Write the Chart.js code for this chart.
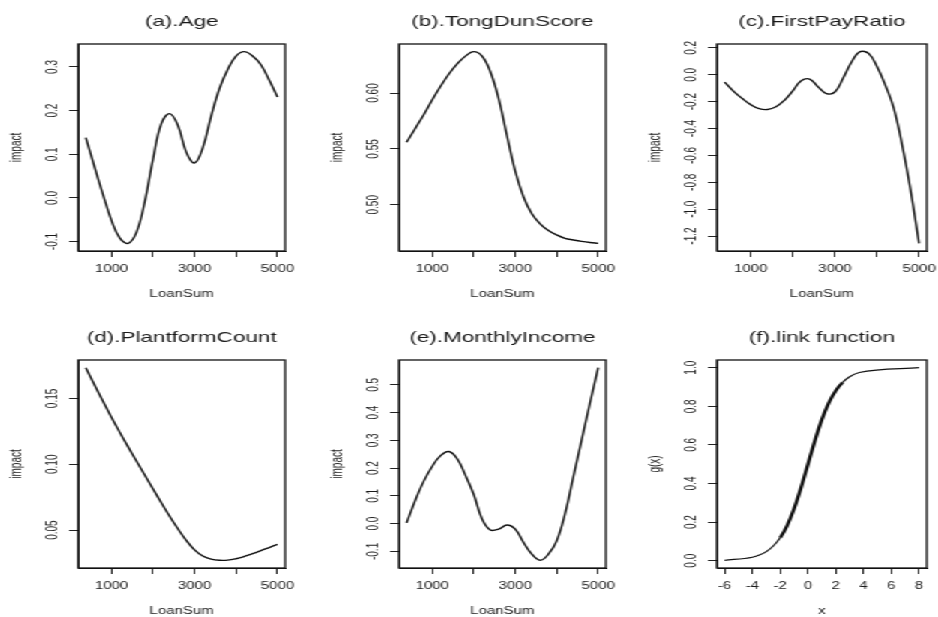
<!DOCTYPE html>
<html><head><meta charset="utf-8">
<script src="https://cdn.jsdelivr.net/npm/chart.js@4/dist/chart.umd.min.js"></script>
<style>
html,body{margin:0;padding:0;background:#fff;overflow:hidden;width:938px;height:617px}
#stage{position:absolute;left:0;top:0;width:626px;height:617px;transform:scaleX(1.5);transform-origin:0 0}
#stage canvas{position:absolute}
</style></head><body><div id="stage"></div>
<script>
// ---------- data ----------
const loanSum = [380,600,800,1000,1200,1400,1600,1800,2000,2200,2400,2600,2800,3000,3200,3400,3600,3800,4000,4200,4400,4600,4800,5000];
const ageImpact = [0.138,0.068,0.006,-0.052,-0.092,-0.104,-0.079,-0.009,0.089,0.170,0.193,0.166,0.105,0.080,0.115,0.187,0.250,0.294,0.325,0.335,0.325,0.305,0.270,0.231];
const tongDunImpact = [0.556,0.569,0.581,0.594,0.606,0.617,0.626,0.633,0.637,0.633,0.619,0.595,0.562,0.530,0.507,0.492,0.483,0.477,0.473,0.470,0.4685,0.4672,0.4662,0.4655];
const firstPayImpact = [-0.055,-0.125,-0.177,-0.222,-0.252,-0.258,-0.238,-0.190,-0.120,-0.045,-0.032,-0.090,-0.140,-0.128,-0.022,0.097,0.172,0.159,0.062,-0.078,-0.250,-0.525,-0.860,-1.254];
const platformImpact = [0.1733,0.1596,0.1474,0.1355,0.1242,0.1132,0.1025,0.0918,0.0812,0.0708,0.0606,0.0510,0.0422,0.0350,0.0303,0.0280,0.0271,0.0272,0.0283,0.0300,0.0321,0.0344,0.0368,0.0392];
const incomeImpact = [0.003,0.088,0.155,0.207,0.245,0.260,0.234,0.174,0.105,0.017,-0.023,-0.020,-0.005,-0.020,-0.068,-0.110,-0.132,-0.110,-0.062,0.035,0.168,0.300,0.433,0.562];
const linkX = [-6,-4,-3.5,-3,-2.5,-2,-1.5,-1,-0.5,0,0.5,1,1.5,2,2.5,3,3.7,8];
const linkY = [0.002,0.018,0.029,0.047,0.076,0.119,0.182,0.269,0.378,0.5,0.622,0.731,0.818,0.881,0.924,0.953,0.975,1.0];

const loanSumTicks = [1000,2000,3000,4000,5000];
const loanSumTickLabels = ['1000','','3000','','5000'];
const linkXTicks = [-6,-4,-2,0,2,4,6,8];
const linkXTickLabels = ['-6','-4','-2','0','2','4','6','8'];
const ageTicks = [-0.1,0,0.1,0.2,0.3];
const ageTickLabels = ['-0.1','0.0','0.1','0.2','0.3'];
const tongDunTicks = [0.50,0.55,0.60];
const tongDunTickLabels = ['0.50','0.55','0.60'];
const firstPayTicks = [-1.2,-1.0,-0.8,-0.6,-0.4,-0.2,0,0.2];
const firstPayTickLabels = ['-1.2','-1.0','-0.8','-0.6','-0.4','-0.2','0.0','0.2'];
const platformTicks = [0.05,0.10,0.15];
const platformTickLabels = ['0.05','0.10','0.15'];
const incomeTicks = [-0.1,0,0.1,0.2,0.3,0.4,0.5];
const incomeTickLabels = ['-0.1','0.0','0.1','0.2','0.3','0.4','0.5'];
const linkYTicks = [0,0.2,0.4,0.6,0.8,1.0];
const linkYTickLabels = ['0.0','0.2','0.4','0.6','0.8','1.0'];

const titles = ['(a).Age','(b).TongDunScore','(c).FirstPayRatio','(d).PlantformCount','(e).MonthlyIncome','(f).link function'];

// ---------- layout (page px boxes) ----------
const S = 1.5, M = 60, TOPM = 44, BOTM = 60;
const FONT = '"Liberation Sans", Arial, Helvetica, sans-serif';
const boxes = [
  [77.7, 44.3, 285.0, 251.5],
  [399.0, 44.3, 606.3, 251.5],
  [717.7, 44.3, 927.7, 251.5],
  [77.7, 360.3, 285.0, 568.5],
  [399.0, 360.3, 606.3, 568.5],
  [717.7, 360.3, 927.7, 568.5]
];

const panels = [
  {x: loanSum, y: ageImpact, xt: loanSumTicks, xl: loanSumTickLabels, yt: ageTicks, yl: ageTickLabels, xTitle:'LoanSum', yTitle:'impact'},
  {x: loanSum, y: tongDunImpact, xt: loanSumTicks, xl: loanSumTickLabels, yt: tongDunTicks, yl: tongDunTickLabels, xTitle:'LoanSum', yTitle:'impact'},
  {x: loanSum, y: firstPayImpact, xt: loanSumTicks, xl: loanSumTickLabels, yt: firstPayTicks, yl: firstPayTickLabels, xTitle:'LoanSum', yTitle:'impact'},
  {x: loanSum, y: platformImpact, xt: loanSumTicks, xl: loanSumTickLabels, yt: platformTicks, yl: platformTickLabels, xTitle:'LoanSum', yTitle:'impact'},
  {x: loanSum, y: incomeImpact, xt: loanSumTicks, xl: loanSumTickLabels, yt: incomeTicks, yl: incomeTickLabels, xTitle:'LoanSum', yTitle:'impact'},
  {x: linkX, y: linkY, xt: linkXTicks, xl: linkXTickLabels, yt: linkYTicks, yl: linkYTickLabels, xTitle:'x', yTitle:'g(x)', link:true}
];

function rRange(arr){ const mn=Math.min(...arr), mx=Math.max(...arr), d=(mx-mn)*0.04; return [mn-d, mx+d]; }

const boxPlugin = {
  id:'rbox',
  afterDatasetsDraw(chart){
    const a = chart.chartArea, c = chart.ctx;
    c.save(); c.strokeStyle = '#111'; c.lineWidth = 1.3;
    c.strokeRect(a.left, a.top, a.right - a.left, a.bottom - a.top);
    c.restore();
  }
};
const yLabelPlugin = {
  id:'yTickLabels',
  afterDraw(chart, args, opts){
    const s = chart.scales.y, c = chart.ctx, a = chart.chartArea;
    c.save();
    c.font = '10px ' + FONT; c.fillStyle = '#1a1a1a'; c.textAlign = 'center'; c.textBaseline = 'middle';
    opts.values.forEach((v, i) => {
      const py = s.getPixelForValue(v);
      c.save(); c.translate(a.left - opts.offset, py); c.rotate(-Math.PI/2);
      c.fillText(opts.labels[i], 0, 0); c.restore();
    });
    c.restore();
  }
};

const stage = document.getElementById('stage');
panels.forEach((p, k) => {
  const [L, T, R, B] = boxes[k];
  const cv = document.createElement('canvas');
  const w = Math.round((R - L) / S + 2 * M);
  const h = Math.round(B - T + TOPM + BOTM);
  cv.width = w; cv.height = h;
  cv.style.left = (L / S - M) + 'px';
  cv.style.top = (T - TOPM) + 'px';
  cv.style.width = w + 'px'; cv.style.height = h + 'px';
  stage.appendChild(cv);
  const xr = rRange(p.x), yr = rRange(p.y);
  const ds = {
    data: p.x.map((xv, i) => ({x: xv, y: p.y[i]})),
    yAxisID: 'y', xAxisID: 'x',
    borderColor: '#111', borderWidth: 1.4, pointRadius: 0, fill: false,
    tension: 0.4
  };
  if (p.link) {
    ds.cubicInterpolationMode = 'monotone';
    ds.segment = { borderWidth: ctx => (ctx.p0.parsed.x >= -2 && ctx.p0.parsed.x < 2.5) ? 2.4 : 1.2 };
  }
  new Chart(cv, {
    type: 'line',
    data: { datasets: [ds] },
    plugins: [boxPlugin, yLabelPlugin],
    options: {
      responsive: false, animation: false, devicePixelRatio: 1,
      layout: { padding: 0 },
      plugins: {
        legend: { display: false }, tooltip: { enabled: false },
        title: { display: true, text: titles[k], color: '#1a1a1a',
          font: { family: FONT, size: 15, weight: 'normal', lineHeight: 1 },
          padding: { top: 14, bottom: 15 } },
        yTickLabels: { values: p.yt, labels: p.yl, offset: 17 }
      },
      scales: {
        x: {
          type: 'linear', min: xr[0], max: xr[1],
          afterBuildTicks: s => { s.ticks = p.xt.map(v => ({value: v})); },
          afterFit: s => { s.height = BOTM; },
          ticks: { callback: (v, i) => p.xl[i], autoSkip: false, maxRotation: 0, padding: 6.5,
            color: '#1a1a1a', font: { family: FONT, size: 10, lineHeight: 1.2 } },
          grid: { drawOnChartArea: false, drawTicks: true, tickLength: 6, tickColor: '#222', tickWidth: 1 },
          border: { display: true, color: '#111', width: 1 },
          title: { display: true, text: p.xTitle, color: '#1a1a1a',
            font: { family: FONT, size: 10, lineHeight: 1 }, padding: { top: 0, bottom: 12 } }
        },
        y: {
          type: 'linear', position: 'left', min: yr[0], max: yr[1],
          afterBuildTicks: s => { s.ticks = p.yt.map(v => ({value: v})); },
          afterFit: s => { s.width = M; },
          ticks: { display: false },
          grid: { drawOnChartArea: false, drawTicks: true, tickLength: 6, tickColor: '#222', tickWidth: 1 },
          border: { display: true, color: '#111', width: 1 },
          title: { display: true, text: p.yTitle, color: '#1a1a1a',
            font: { family: FONT, size: 10, lineHeight: 1 }, padding: { top: 14, bottom: 0 } }
        },
        yRight: {
          type: 'linear', position: 'right', display: true,
          ticks: { display: false }, grid: { display: false }, border: { display: false },
          title: { display: false },
          afterFit: s => { s.width = M; }
        }
      }
    }
  });
});
</script>
</body></html>
